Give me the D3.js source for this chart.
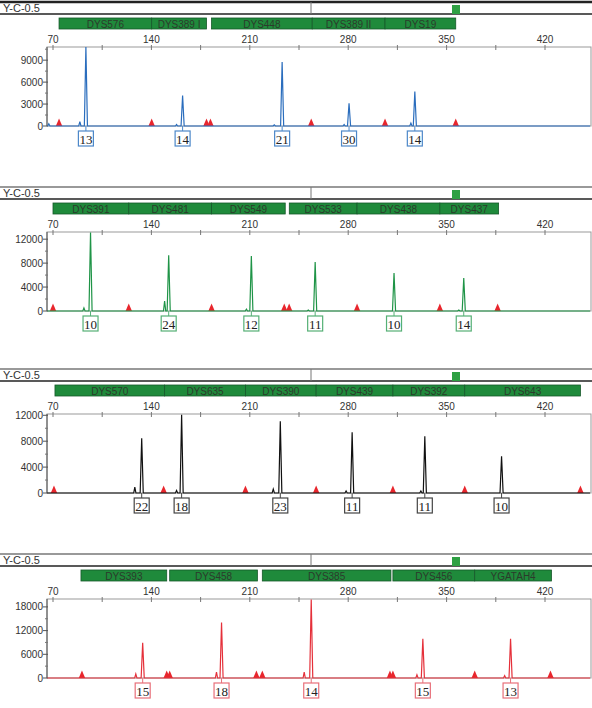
<!DOCTYPE html>
<html>
<head>
<meta charset="utf-8">
<script src="https://cdn.jsdelivr.net/npm/d3@7"></script>
<style>
  body { margin: 0; background: #fff; }
  svg { display: block; }
  text { font-family: "Liberation Sans", Arial, sans-serif; }
</style>
</head>
<body>
<div id="chart"></div>
<script>
// ---- data (size in bp, height in RFU) ----
var panelTitle = "Y-C-0.5";
var xTicks = [70, 140, 210, 280, 350, 420];

// panel 1 (blue)
var markers1 = [["DYS576", 74.3, 140.2], ["DYS389 I", 140.2, 179.2], ["DYS448", 182.8, 254.4], ["DYS389 II", 254.4, 306.2], ["DYS19", 306.2, 356.5]];
var alleles1 = [13, 14, 21, 30, 14];
var peakSize1 = [93.4, 162.2, 233.0, 280.6, 327.4];
var peakHeight1 = [10800, 4170, 8740, 3100, 4700];
var stutterSize1 = [67.0, 89.1, 157.9, 227.4, 277.1, 324.6];
var stutterHeight1 = [300, 600, 200, 150, 200, 400];
var ladder1 = [74.3, 140.2, 179.2, 182.0, 253.7, 306.2, 356.5];
var yTicks1 = [0, 3000, 6000, 9000];
var yMax1 = 10800;

// panel 2 (green)
var markers2 = [["DYS391", 70.0, 123.9], ["DYS481", 123.9, 182.8], ["DYS549", 182.8, 235.2], ["DYS533", 238.1, 286.3], ["DYS438", 286.3, 345.2], ["DYS437", 345.2, 387.0]];
var alleles2 = [10, 24, 12, 11, 10, 14];
var peakSize2 = [96.7, 152.3, 211.1, 256.5, 312.6, 362.2];
var peakHeight2 = [13100, 9330, 9170, 8170, 6330, 5500];
var stutterSize2 = [92.0, 149.4, 207.6, 251.6, 358.7];
var stutterHeight2 = [500, 1670, 300, 150, 150];
var ladder2 = [70.0, 123.9, 182.8, 234.5, 238.0, 286.3, 345.2, 386.3];
var yTicks2 = [0, 4000, 8000, 12000];
var yMax2 = 13200;

// panel 3 (black)
var markers3 = [["DYS570", 71.4, 149.4], ["DYS635", 149.4, 206.9], ["DYS390", 206.9, 257.2], ["DYS439", 257.2, 311.8], ["DYS392", 311.8, 362.9], ["DYS643", 362.9, 445.2]];
var alleles3 = [22, 18, 23, 11, 11, 10];
var peakSize3 = [133.1, 161.5, 231.7, 282.8, 334.5, 389.1];
var peakHeight3 = [8460, 12100, 11080, 9380, 8770, 5690];
var stutterSize3 = [128.2, 157.9, 226.7, 278.5, 331.7];
var stutterHeight3 = [920, 400, 600, 300, 300];
var ladder3 = [70.7, 148.7, 206.9, 257.2, 311.8, 362.9, 445.2];
var yTicks3 = [0, 4000, 8000, 12000];
var yMax3 = 12200;

// panel 4 (red)
var markers4 = [["DYS393", 89.9, 150.9], ["DYS458", 153.0, 215.4], ["DYS385", 218.9, 310.4], ["DYS456", 311.8, 370.0], ["YGATAH4", 370.0, 424.6]];
var alleles4 = [15, 18, 14, 15, 13];
var peakSize4 = [133.8, 189.9, 253.7, 333.1, 395.5];
var peakHeight4 = [8940, 14040, 19900, 9960, 9960];
var stutterSize4 = [128.9, 186.3, 248.7, 328.9, 391.3];
var stutterHeight4 = [1000, 1500, 1500, 800, 600];
var ladder4 = [90.6, 150.9, 153.0, 214.7, 218.9, 309.7, 311.8, 370.0, 423.9];
var yTicks4 = [0, 6000, 12000, 18000];
var yMax4 = 20000;

var panels = [
  {markers: markers1, alleles: alleles1, size: peakSize1, height: peakHeight1, sSize: stutterSize1, sHeight: stutterHeight1, ladder: ladder1, yTicks: yTicks1, yMax: yMax1, color: "#2a6dbd", box: "#4d88c9"},
  {markers: markers2, alleles: alleles2, size: peakSize2, height: peakHeight2, sSize: stutterSize2, sHeight: stutterHeight2, ladder: ladder2, yTicks: yTicks2, yMax: yMax2, color: "#1f9447", box: "#55b075"},
  {markers: markers3, alleles: alleles3, size: peakSize3, height: peakHeight3, sSize: stutterSize3, sHeight: stutterHeight3, ladder: ladder3, yTicks: yTicks3, yMax: yMax3, color: "#111111", box: "#444444"},
  {markers: markers4, alleles: alleles4, size: peakSize4, height: peakHeight4, sSize: stutterSize4, sHeight: stutterHeight4, ladder: ladder4, yTicks: yTicks4, yMax: yMax4, color: "#e5303a", box: "#e8707a"}
];

// layout
var W = 592, H = 708;
var tops = [2, 187, 369, 554];
var left = 47, right = 591;
var plotTop = 45, plotBottom = 124;

var svg = d3.select("#chart").append("svg")
  .attr("width", W)
  .attr("height", H);

var x = d3.scaleLinear().domain([70, 420]).range([53, 545]);

panels.forEach(function (p, k) {
  var g = svg.append("g").attr("transform", "translate(0," + tops[k] + ")");

  // header strip
  g.append("line").attr("x1", 0).attr("x2", W).attr("y1", 0).attr("y2", 0)
    .style("stroke", k == 0 ? "#222" : "#777").style("stroke-width", k == 0 ? 2.5 : 1.5);
  g.append("line").attr("x1", 0).attr("x2", W).attr("y1", 12).attr("y2", 12)
    .style("stroke", "#222").style("stroke-width", 1.3);
  g.append("line").attr("x1", 311).attr("x2", 311).attr("y1", 0).attr("y2", 12)
    .style("stroke", "#777").style("stroke-width", 1);
  g.append("rect").attr("x", 452).attr("y", 3).attr("width", 8).attr("height", 9)
    .style("fill", "#2ea043");
  g.append("text").attr("x", 3).attr("y", 10).text(panelTitle)
    .style("font-size", "11px").style("fill", "#333");

  // marker bins
  var bins = g.append("g").selectAll("g").data(p.markers).enter().append("g");
  bins.append("rect")
    .attr("x", d => x(d[1]))
    .attr("y", 16)
    .attr("width", d => x(d[2]) - x(d[1]))
    .attr("height", 11)
    .style("fill", "#1f8a3b")
    .style("stroke", "#16582a")
    .style("stroke-width", 0.8);
  bins.append("text")
    .attr("x", d => (x(d[1]) + x(d[2])) / 2)
    .attr("y", 25.5)
    .attr("text-anchor", "middle")
    .text(d => d[0])
    .style("font-size", "10px")
    .style("fill", "#2c3a2c");

  // y scale
  var y = d3.scaleLinear().domain([0, p.yMax]).range([plotBottom, plotTop]);

  // plot frame
  g.append("rect").attr("x", left).attr("y", plotTop)
    .attr("width", right - left).attr("height", plotBottom - plotTop)
    .style("fill", "none").style("stroke", "#999").style("stroke-width", 1);

  // top x axis
  var minorX = d3.range(70, 455, 35);
  g.append("g").selectAll("line").data(minorX).enter().append("line")
    .attr("x1", d => x(d)).attr("x2", d => x(d))
    .attr("y1", plotTop - 2).attr("y2", plotTop + 3)
    .style("stroke", "#777").style("stroke-width", 1);
  g.append("g").selectAll("text").data(xTicks).enter().append("text")
    .attr("x", d => x(d)).attr("y", 41)
    .attr("text-anchor", "middle")
    .text(d => d)
    .style("font-size", "10px").style("fill", "#333");

  // left y axis
  g.append("line").attr("x1", left).attr("x2", left).attr("y1", plotTop).attr("y2", plotBottom)
    .style("stroke", "#555").style("stroke-width", 1);
  var step = p.yTicks[1] - p.yTicks[0];
  var minorY = d3.range(step / 2, p.yMax, step);
  g.append("g").selectAll("line").data(minorY).enter().append("line")
    .attr("x1", left - 2).attr("x2", left + 1)
    .attr("y1", d => y(d)).attr("y2", d => y(d))
    .style("stroke", "#777");
  g.append("g").selectAll("line").data(p.yTicks).enter().append("line")
    .attr("x1", left - 4).attr("x2", left + 1)
    .attr("y1", d => y(d)).attr("y2", d => y(d))
    .style("stroke", "#555");
  g.append("g").selectAll("text").data(p.yTicks).enter().append("text")
    .attr("x", left - 4).attr("y", d => y(d) + 3.5)
    .attr("text-anchor", "end")
    .text(d => d)
    .style("font-size", "10px").style("fill", "#333");

  // size standard triangles
  g.append("g").selectAll("path").data(p.ladder).enter().append("path")
    .attr("d", d => "M" + (x(d) - 3.2) + "," + (plotBottom) + "L" + x(d) + "," + (plotBottom - 7.5) + "L" + (x(d) + 3.2) + "," + plotBottom + "Z")
    .style("fill", "#e8262d");

  // trace: baseline with spikes at each peak
  var pts = [];
  p.size.forEach(function (s, i) { pts.push({s: s, h: p.height[i], w: 1.1}); });
  p.sSize.forEach(function (s, i) { pts.push({s: s, h: p.sHeight[i], w: 0.8}); });
  pts.sort((a, b) => a.s - b.s);
  var trace = [[66, 0]];
  pts.forEach(function (d) {
    trace.push([d.s - d.w, 0], [d.s, d.h], [d.s + d.w, 0]);
  });
  trace.push([452, 0]);

  var clipId = "clip" + k;
  g.append("clipPath").attr("id", clipId).append("rect")
    .attr("x", left).attr("y", plotTop - 1).attr("width", right - left).attr("height", plotBottom - plotTop + 2);
  g.append("path")
    .datum(trace)
    .attr("clip-path", "url(#" + clipId + ")")
    .attr("d", d3.line().x(d => x(d[0])).y(d => y(d[1])))
    .style("fill", "none")
    .style("stroke", p.color)
    .style("stroke-width", 1.2);

  // allele call boxes
  var calls = g.append("g").selectAll("g").data(p.size).enter().append("g")
    .attr("transform", d => "translate(" + x(d) + ",0)");
  calls.append("line").attr("x1", 0).attr("x2", 0)
    .attr("y1", plotBottom).attr("y2", 129)
    .style("stroke", p.box).style("stroke-width", 1);
  calls.append("rect")
    .attr("x", -7.5).attr("y", 129).attr("width", 15).attr("height", 15)
    .style("fill", "#fff").style("stroke", p.box).style("stroke-width", 1.2);
  calls.append("text")
    .attr("x", 0).attr("y", 141.5)
    .attr("text-anchor", "middle")
    .text((d, i) => p.alleles[i])
    .style("font-family", "'Liberation Serif', 'DejaVu Serif', serif")
    .style("font-size", "13px")
    .style("fill", "#222");
});
</script>
</body>
</html>
